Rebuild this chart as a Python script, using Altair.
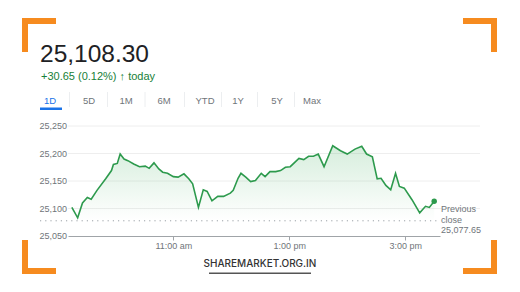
import altair as alt
import pandas as pd

# ---- data ----
times = ["09:15", "09:21", "09:26", "09:31", "09:35", "09:41", "09:50", "09:56", "09:58", "10:02",
         "10:05", "10:09", "10:13", "10:19", "10:25", "10:31", "10:35", "10:40", "10:45", "10:49",
         "10:54", "11:00", "11:05", "11:11", "11:16", "11:20", "11:26", "11:31", "11:35", "11:40",
         "11:46", "11:52", "11:59", "12:02", "12:07", "12:10", "12:15", "12:20", "12:25", "12:31",
         "12:35", "12:40", "12:46", "12:51", "12:56", "13:01", "13:10", "13:15", "13:20", "13:25",
         "13:30", "13:36", "13:45", "13:53", "14:00", "14:08", "14:15", "14:20", "14:26", "14:31",
         "14:35", "14:40", "14:45", "14:50", "14:54", "14:59", "15:07", "15:15", "15:21", "15:25",
         "15:30"]
values = [25102, 25083, 25110, 25120, 25117, 25133, 25154, 25169, 25180, 25182,
          25199, 25190, 25187, 25181, 25176, 25177, 25173, 25183, 25172, 25166,
          25164, 25158, 25157, 25163, 25154, 25145, 25102, 25134, 25131, 25114,
          25122, 25122, 25128, 25133, 25155, 25164, 25157, 25149, 25151, 25164,
          25158, 25167, 25167, 25169, 25175, 25176, 25191, 25189, 25195, 25195,
          25199, 25176, 25214, 25205, 25199, 25208, 25213, 25199, 25194, 25154,
          25155, 25142, 25134, 25164, 25140, 25137, 25116, 25092, 25104, 25102,
          25113]
y_ticks = [25050, 25100, 25150, 25200, 25250]
x_ticks = ["11:00", "13:00", "15:00"]
prev_close = 25077.65
title_text = "25,108.30"
change_text = "+30.65 (0.12%) \u2191 today"
tabs = ["1D", "5D", "1M", "6M", "YTD", "1Y", "5Y", "Max"]
footer = "SHAREMARKET.ORG.IN"

def to_min(t):
    h, m = t.split(":")
    return int(h) * 60 + int(m)

df = pd.DataFrame({"t": [to_min(t) for t in times], "v": values})
df["b"] = prev_close
last = df.tail(1)
ydf = pd.DataFrame({"v": y_ticks})
gdf = pd.DataFrame({"v": y_ticks[1:]})
pcdf = pd.DataFrame({"v": [prev_close]})

FONT = "Liberation Sans"
GRAY = "#70757a"
GREEN = "#2d9a4d"
ORANGE = "#f68b1f"

xs = alt.Scale(domain=[551, 936], range=[68, 440], nice=False, zero=False)
ys = alt.Scale(domain=[25050, 25250], range=[236, 126], nice=False, zero=False)

xaxis = alt.Axis(
    orient="bottom", offset=-56, values=[to_min(t) for t in x_ticks],
    labelExpr="(floor(datum.value/60) > 12 ? floor(datum.value/60) - 12 : floor(datum.value/60)) + ':00 ' + (datum.value < 720 ? 'am' : 'pm')",
    title=None, grid=False, domainColor="#a0a4a8", tickColor="#a0a4a8",
    tickSize=4, labelPadding=1, labelFont=FONT, labelFontSize=9, labelColor=GRAY,
)
X = alt.X("t:Q", scale=xs, axis=xaxis)

one = pd.DataFrame({"a": [1]})

layers = []

# gridlines
layers.append(
    alt.Chart(gdf).mark_rule(color="#eeeeee", strokeWidth=1).encode(
        x=alt.value(68), x2=alt.value(480), y=alt.Y("v:Q", scale=ys, axis=None)
    )
)

# area
layers.append(
    alt.Chart(df).mark_area(
        color=alt.Gradient(
            gradient="linear",
            stops=[alt.GradientStop(color="rgba(52,168,83,0.20)", offset=0),
                   alt.GradientStop(color="rgba(52,168,83,0.0)", offset=1)],
            x1=1, x2=1, y1=0, y2=1,
        )
    ).encode(x=X, y=alt.Y("v:Q", scale=ys, axis=None), y2="b:Q")
)

# previous close dotted line
layers.append(
    alt.Chart(pcdf).mark_rule(color="#9aa0a6", strokeWidth=1, strokeDash=[1.2, 4]).encode(
        x=alt.value(40), x2=alt.value(437), y=alt.Y("v:Q", scale=ys, axis=None)
    )
)

# line
layers.append(
    alt.Chart(df).mark_line(color=GREEN, strokeWidth=1.6).encode(
        x=X, y=alt.Y("v:Q", scale=ys, axis=None)
    )
)

# last point
layers.append(
    alt.Chart(last).mark_point(filled=True, color=GREEN, size=30, opacity=1).encode(
        x=X, y=alt.Y("v:Q", scale=ys, axis=None)
    )
)

# y labels
layers.append(
    alt.Chart(ydf).mark_text(align="right", baseline="middle", font=FONT, fontSize=9, color=GRAY).encode(
        x=alt.value(67), y=alt.Y("v:Q", scale=ys, axis=None), text=alt.Text("v:Q", format=",")
    )
)

# previous close label
for i, line in enumerate(["Previous", "close", f"{prev_close:,.2f}"]):
    layers.append(
        alt.Chart(one).mark_text(text=line, align="left", baseline="middle", font=FONT, fontSize=9, color=GRAY)
        .encode(x=alt.value(441), y=alt.value(209 + i * 10.5))
    )

# header texts
layers.append(
    alt.Chart(one).mark_text(text=title_text, align="left", baseline="alphabetic", font=FONT, fontSize=24.5, color="#202124")
    .encode(x=alt.value(40), y=alt.value(62))
)
layers.append(
    alt.Chart(one).mark_text(text=change_text, align="left", baseline="alphabetic", font=FONT, fontSize=11, color="#188038")
    .encode(x=alt.value(41), y=alt.value(80))
)

# tabs
tab_x = [50, 89, 126, 164, 205, 238, 277, 312]
for i, (lab, cx) in enumerate(zip(tabs, tab_x)):
    layers.append(
        alt.Chart(one).mark_text(text=lab, align="center", baseline="alphabetic", font=FONT, fontSize=9.5,
                                 color="#1a73e8" if i == 0 else GRAY)
        .encode(x=alt.value(cx), y=alt.value(103.5))
    )
    if i > 0:
        sx = (tab_x[i - 1] + cx) / 2
        layers.append(
            alt.Chart(one).mark_rule(color="#eceef0", strokeWidth=1).encode(
                x=alt.value(sx), y=alt.value(92), y2=alt.value(107)
            )
        )
layers.append(
    alt.Chart(one).mark_rect(color="#1a73e8").encode(
        x=alt.value(40), x2=alt.value(62), y=alt.value(107.5), y2=alt.value(110)
    )
)

# footer
layers.append(
    alt.Chart(one).mark_text(text=footer, align="center", baseline="alphabetic", font="Inter", fontSize=10,
                             fontWeight=500, color="#333333")
    .encode(x=alt.value(260), y=alt.value(267))
)
layers.append(
    alt.Chart(one).mark_rect(color="#555555").encode(
        x=alt.value(209), x2=alt.value(311), y=alt.value(272.5), y2=alt.value(274)
    )
)

# orange corner brackets
brackets = [
    (22, 56, 18, 24), (22, 28, 18, 52),
    (463, 497, 18, 24), (491, 497, 18, 52),
    (22, 28, 240, 274), (22, 56, 268, 274),
    (491, 497, 240, 274), (463, 497, 268, 274),
]
for x1, x2, y1, y2 in brackets:
    layers.append(
        alt.Chart(one).mark_rect(color=ORANGE).encode(
            x=alt.value(x1), x2=alt.value(x2), y=alt.value(y1), y2=alt.value(y2)
        )
    )

chart = alt.layer(*layers).properties(
    width=520, height=292, padding=0, autosize=alt.AutoSizeParams(type="none"), background="white"
).configure_view(stroke=None)

chart.save("out.html", embed_options={"renderer": "svg", "actions": False})
